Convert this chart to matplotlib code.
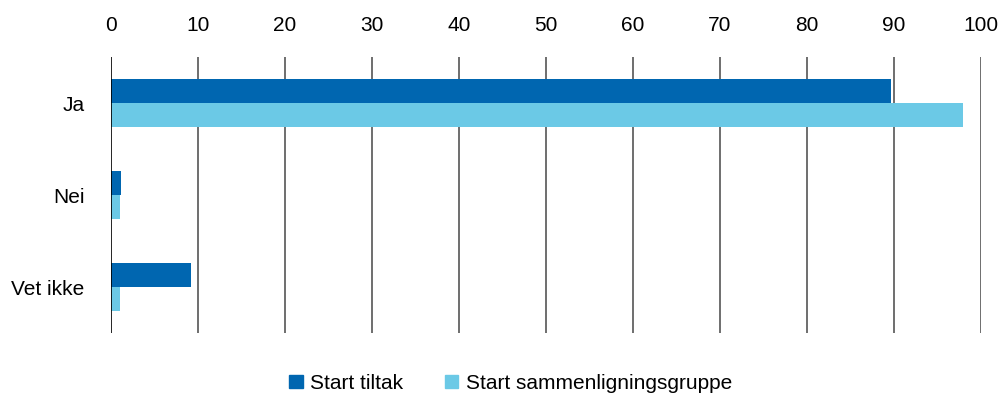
import numpy as np
import matplotlib.pyplot as plt
from matplotlib.patches import Patch

plt.rcParams['font.family'] = ['Liberation Sans', 'DejaVu Sans']

categories = ['Ja', 'Nei', 'Vet ikke']
series_names = ['Start tiltak', 'Start sammenligningsgruppe']
tiltak = [89.7, 1.2, 9.2]
sammenligning = [98.0, 1.0, 1.0]
x_ticks = list(range(0, 101, 10))

dark = '#0066b0'
light = '#6bc9e6'

fig = plt.figure(figsize=(10.01, 3.96), dpi=100)
ax = fig.add_axes([0.1109, 0.159, 0.869, 0.697])

y = np.arange(len(categories))
h = 0.26
ax.barh(y - h / 2, tiltak, height=h, color=dark, zorder=3)
ax.barh(y + h / 2, sammenligning, height=h, color=light, zorder=3)

ax.set_xlim(0, 100)
ax.set_ylim(len(categories) - 0.5, -0.5)
ax.set_xticks(x_ticks)
ax.set_yticks(y)
ax.set_yticklabels(categories)
ax.xaxis.tick_top()
ax.tick_params(axis='x', length=0, pad=16, labelsize=15)
ax.tick_params(axis='y', length=0, pad=19, labelsize=15)
for s in ax.spines.values():
    s.set_visible(False)
for t in x_ticks:
    ax.axvline(t, color='#000000' if t == 0 else '#555555', linewidth=1.2, zorder=4 if t == 0 else 1)

handles = [Patch(color=dark), Patch(color=light)]
fig.legend(handles, series_names, loc='center', bbox_to_anchor=(0.51, 0.032), ncol=2,
           frameon=False, fontsize=15, handlelength=0.65, handleheight=0.65,
           handletextpad=0.35, columnspacing=2.0)

fig.savefig('out.png', dpi=100)
